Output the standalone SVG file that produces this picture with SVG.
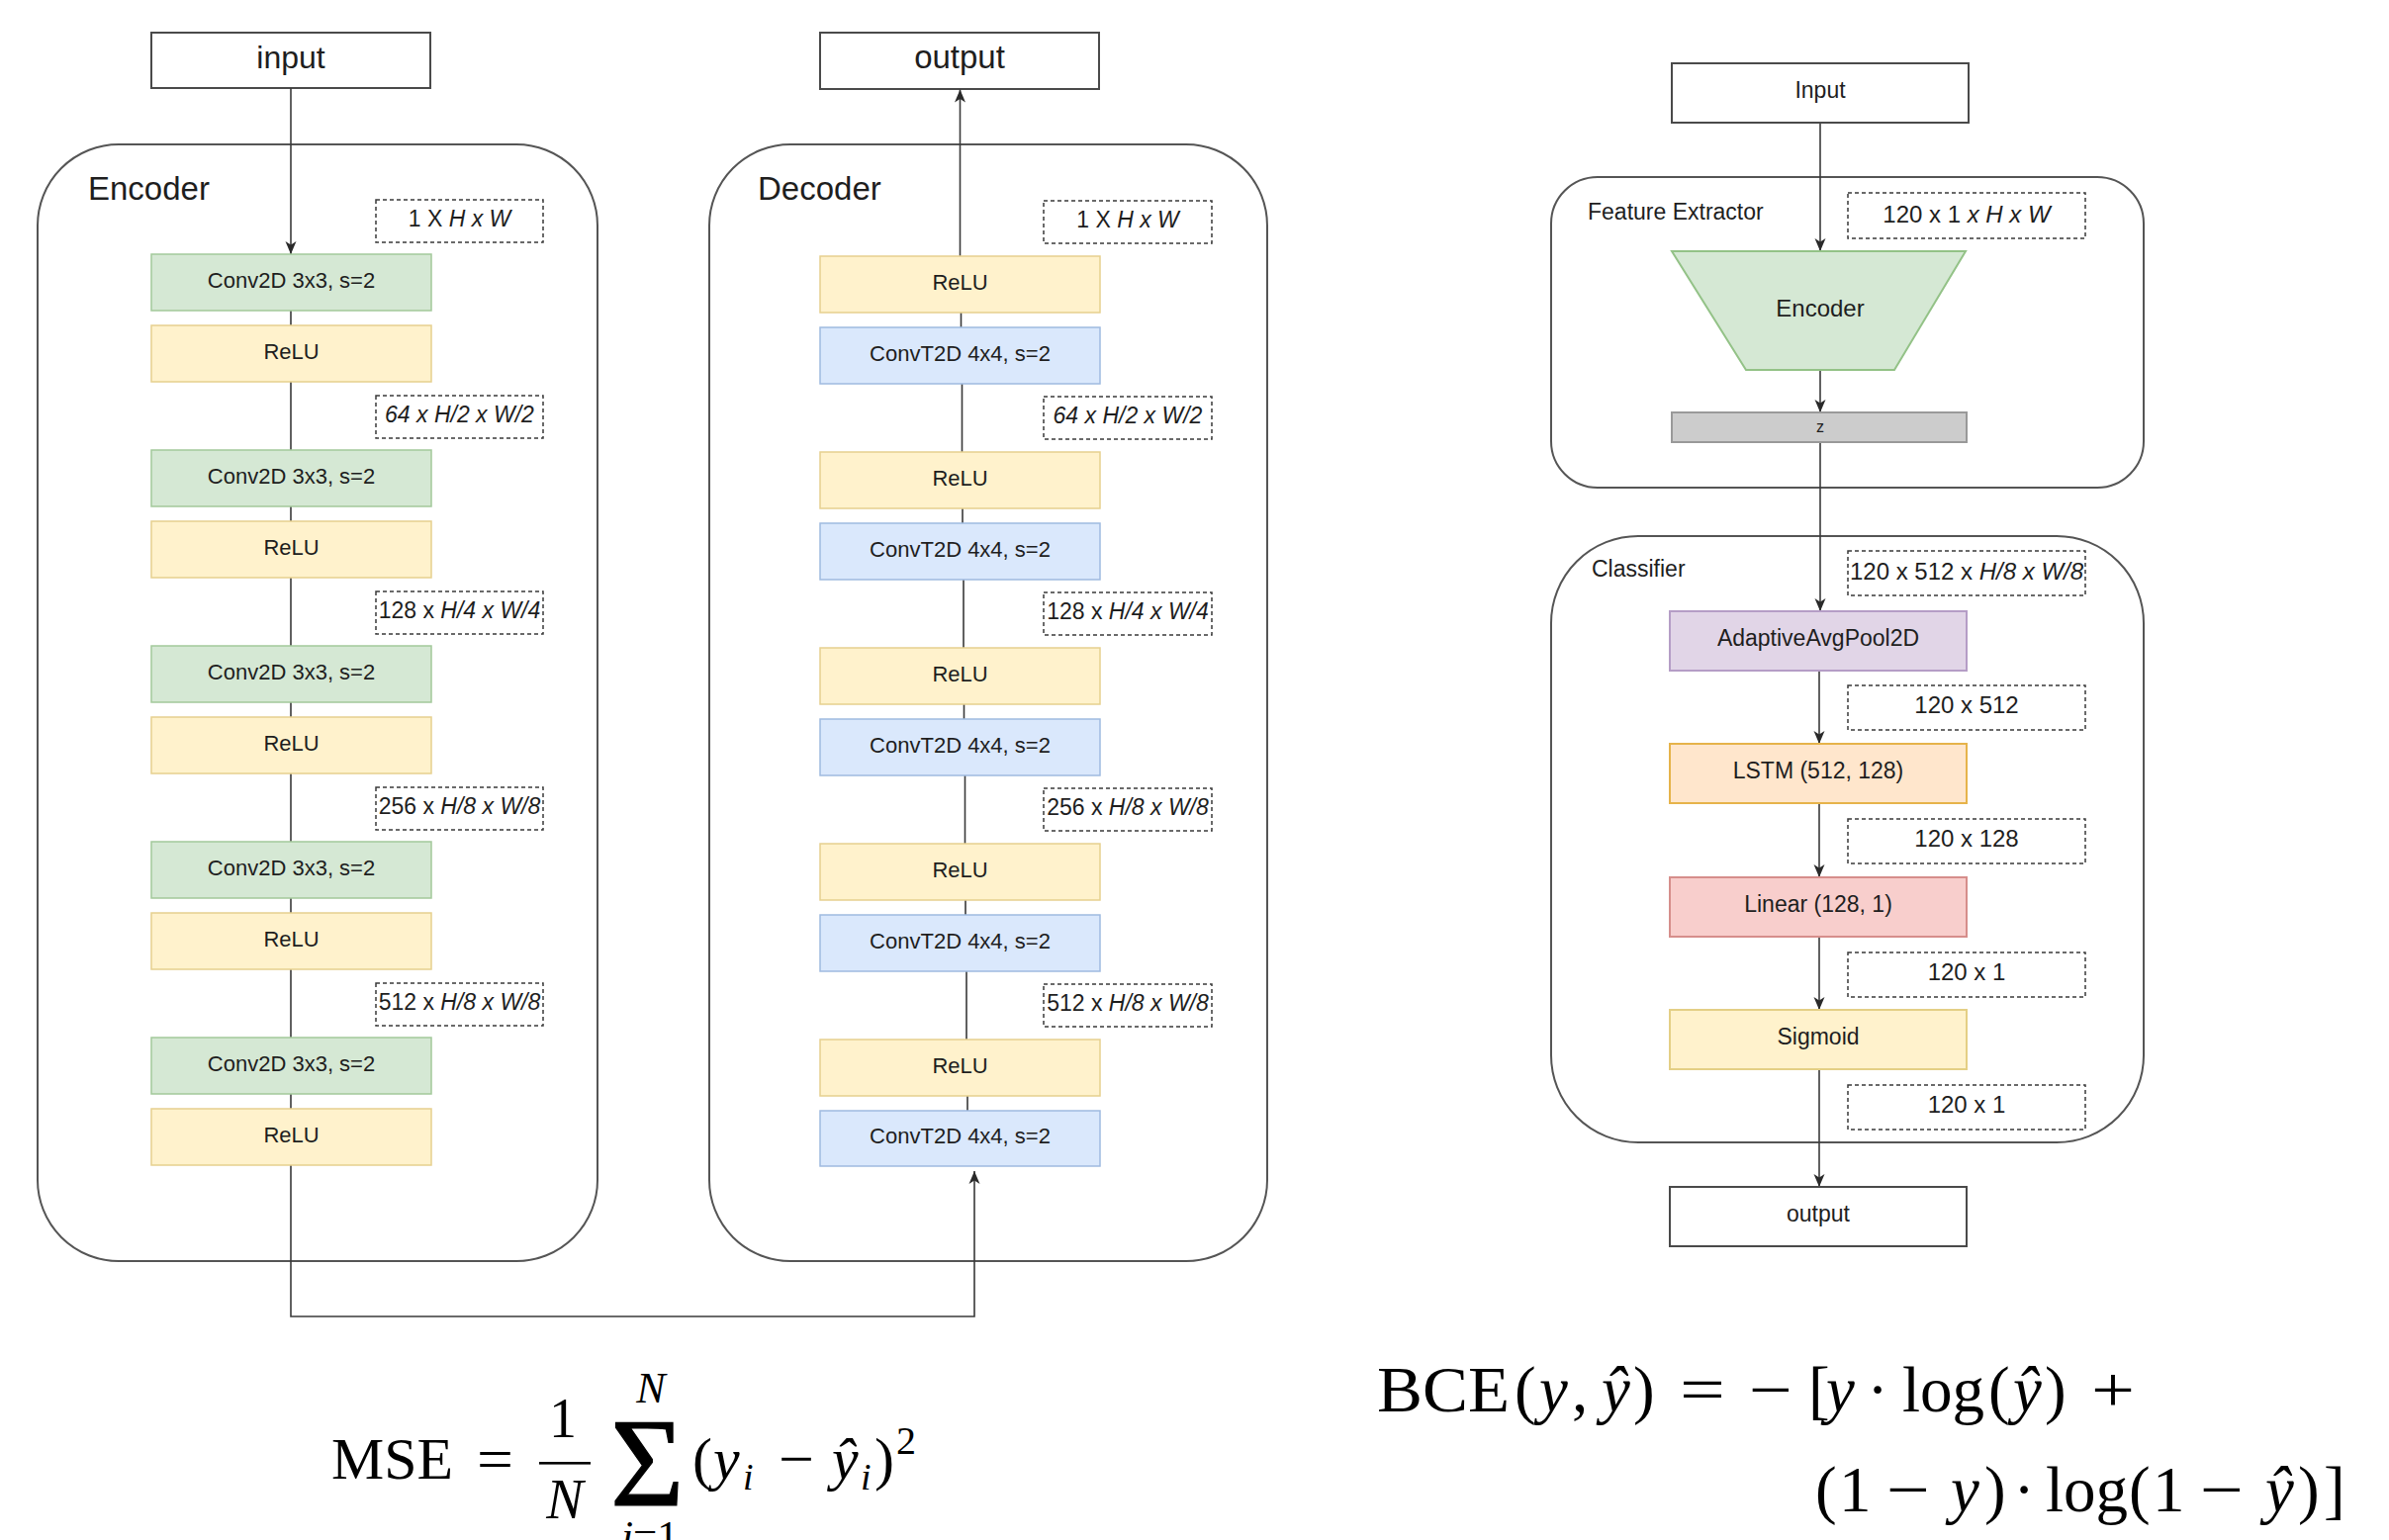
<svg xmlns="http://www.w3.org/2000/svg" width="2415" height="1557" viewBox="0 0 2415 1557">
  <style>
    .t { font-family: "Liberation Sans", Arial, Helvetica, sans-serif; fill: #1e1e1e; }
    .c { text-anchor: middle; }
    .s22 { font-size: 22px; }
    .s23 { font-size: 23px; }
    .s24 { font-size: 24px; }
    .it { font-style: italic; }
    .cont { fill: none; stroke: #555555; stroke-width: 2; }
    .io { fill: #ffffff; stroke: #4a4a4a; stroke-width: 2; }
    .dash { fill: #ffffff; stroke: #3a3a3a; stroke-width: 1.5; stroke-dasharray: 4 3; }
    .green { fill: #d5e8d4; stroke: #a3c99a; stroke-width: 1.5; }
    .yellow { fill: #fff2cc; stroke: #e6d08e; stroke-width: 1.5; }
    .blue { fill: #dae8fc; stroke: #9fbae0; stroke-width: 1.5; }
    .purple { fill: #e1d5e7; stroke: #b59dc6; stroke-width: 2; }
    .orange { fill: #ffe6cc; stroke: #e6b34a; stroke-width: 2; }
    .red { fill: #f8cecc; stroke: #d68e8b; stroke-width: 2; }
    .sig { fill: #fff2cc; stroke: #e4cf85; stroke-width: 2; }
    .gray { fill: #cccccc; stroke: #999999; stroke-width: 2; }
    .trap { fill: #d5e8d4; stroke: #93c287; stroke-width: 2; }
    .conn { fill: none; stroke: #3a3a3a; stroke-width: 1.6; }
    .m { font-family: "Liberation Serif", "Times New Roman", serif; fill: #000000; }
    .mi { font-style: italic; }
  </style>
  <defs>
    <marker id="arrow" markerUnits="userSpaceOnUse" markerWidth="14" markerHeight="14" viewBox="0 0 14 14" refX="13" refY="7" orient="auto">
      <path d="M0,1.5 L13,7 L0,12.5 L3.5,7 Z" fill="#2a2a2a"/>
    </marker>
  </defs>

  <rect width="2415" height="1557" fill="#ffffff"/>

  <!-- ===== group containers (drawn first, no fill) ===== -->
  <g id="encoder">
    <rect class="cont" x="38" y="146" width="566" height="1129" rx="82" ry="82"/>
    <text class="t" x="89" y="202" font-size="33">Encoder</text>
  </g>
  <g id="decoder">
    <rect class="cont" x="717" y="146" width="564" height="1129" rx="82" ry="82"/>
    <text class="t" x="766" y="202" font-size="33">Decoder</text>
  </g>
  <g id="feature-extractor">
    <rect class="cont" x="1568" y="179" width="599" height="314" rx="47" ry="47"/>
    <text class="t s23" x="1605" y="222">Feature Extractor</text>
  </g>
  <g id="classifier">
    <rect class="cont" x="1568" y="542" width="599" height="613" rx="88" ry="88"/>
    <text class="t s23" x="1609" y="583">Classifier</text>
  </g>

  <g id="ae-input">
    <rect class="io" x="153" y="33" width="282" height="56"/>
    <text class="t c" x="294" y="69" font-size="32">input</text>
  </g>
  <g id="ae-output">
    <rect class="io" x="829" y="33" width="282" height="57"/>
    <text class="t c" x="970" y="69" font-size="33">output</text>
  </g>

  <!-- ===== connectors ===== -->
  <g id="connectors">
    <!-- encoder chain -->
    <path class="conn" d="M294,89 V257" marker-end="url(#arrow)"/>
    <path class="conn" d="M294,314 V329 M294,386 V455 M294,512 V527 M294,584 V653 M294,710 V725 M294,782 V851 M294,908 V923 M294,980 V1049 M294,1106 V1121"/>
    <!-- latent path from encoder to decoder -->
    <path class="conn" d="M294,1178 V1331 H985 V1184" marker-end="url(#arrow)"/>
    <!-- decoder chain -->
    <path class="conn" d="M970.5,259 V90.5" marker-end="url(#arrow)"/>
    <path class="conn" d="M971.5,316 V331 M972.5,388 V457 M973,514 V529 M974,586 V655 M974.5,712 V727 M975.5,784 V853 M976,910 V925 M977,982 V1051 M978,1108 V1123"/>
    <!-- classifier chain -->
    <path class="conn" d="M1840,124 V254" marker-end="url(#arrow)"/>
    <path class="conn" d="M1840,374 V417" marker-end="url(#arrow)"/>
    <path class="conn" d="M1840,447 V618" marker-end="url(#arrow)"/>
    <path class="conn" d="M1839,678 V752" marker-end="url(#arrow)"/>
    <path class="conn" d="M1839,812 V887" marker-end="url(#arrow)"/>
    <path class="conn" d="M1839,947 V1021" marker-end="url(#arrow)"/>
    <path class="conn" d="M1839,1081 V1200" marker-end="url(#arrow)"/>
  </g>

  <!-- ===== encoder layers ===== -->
  <g id="enc-conv1"><rect class="green" x="153" y="257" width="283" height="57"/><text class="t c s22" x="294.5" y="291">Conv2D 3x3, s=2</text></g>
  <g id="enc-relu1"><rect class="yellow" x="153" y="329" width="283" height="57"/><text class="t c s22" x="294.5" y="363">ReLU</text></g>
  <g id="enc-conv2"><rect class="green" x="153" y="455" width="283" height="57"/><text class="t c s22" x="294.5" y="489">Conv2D 3x3, s=2</text></g>
  <g id="enc-relu2"><rect class="yellow" x="153" y="527" width="283" height="57"/><text class="t c s22" x="294.5" y="561">ReLU</text></g>
  <g id="enc-conv3"><rect class="green" x="153" y="653" width="283" height="57"/><text class="t c s22" x="294.5" y="687">Conv2D 3x3, s=2</text></g>
  <g id="enc-relu3"><rect class="yellow" x="153" y="725" width="283" height="57"/><text class="t c s22" x="294.5" y="759">ReLU</text></g>
  <g id="enc-conv4"><rect class="green" x="153" y="851" width="283" height="57"/><text class="t c s22" x="294.5" y="885">Conv2D 3x3, s=2</text></g>
  <g id="enc-relu4"><rect class="yellow" x="153" y="923" width="283" height="57"/><text class="t c s22" x="294.5" y="957">ReLU</text></g>
  <g id="enc-conv5"><rect class="green" x="153" y="1049" width="283" height="57"/><text class="t c s22" x="294.5" y="1083">Conv2D 3x3, s=2</text></g>
  <g id="enc-relu5"><rect class="yellow" x="153" y="1121" width="283" height="57"/><text class="t c s22" x="294.5" y="1155">ReLU</text></g>

  <!-- encoder tensor shapes -->
  <g id="enc-shape1"><rect class="dash" x="380" y="202" width="169" height="43"/><text class="t c s23" x="464.5" y="229">1 X <tspan class="it">H x W</tspan></text></g>
  <g id="enc-shape2"><rect class="dash" x="380" y="400" width="169" height="43"/><text class="t c s23 it" x="464.5" y="427">64 x H/2 x W/2</text></g>
  <g id="enc-shape3"><rect class="dash" x="380" y="598" width="169" height="43"/><text class="t c s23" x="464.5" y="625">128 x <tspan class="it">H/4 x W/4</tspan></text></g>
  <g id="enc-shape4"><rect class="dash" x="380" y="796" width="169" height="43"/><text class="t c s23" x="464.5" y="823">256 x <tspan class="it">H/8 x W/8</tspan></text></g>
  <g id="enc-shape5"><rect class="dash" x="380" y="994" width="169" height="43"/><text class="t c s23" x="464.5" y="1021">512 x <tspan class="it">H/8 x W/8</tspan></text></g>

  <!-- ===== decoder layers ===== -->
  <g id="dec-relu1"><rect class="yellow" x="829" y="259" width="283" height="57"/><text class="t c s22" x="970.5" y="293">ReLU</text></g>
  <g id="dec-convt1"><rect class="blue" x="829" y="331" width="283" height="57"/><text class="t c s22" x="970.5" y="365">ConvT2D 4x4, s=2</text></g>
  <g id="dec-relu2"><rect class="yellow" x="829" y="457" width="283" height="57"/><text class="t c s22" x="970.5" y="491">ReLU</text></g>
  <g id="dec-convt2"><rect class="blue" x="829" y="529" width="283" height="57"/><text class="t c s22" x="970.5" y="563">ConvT2D 4x4, s=2</text></g>
  <g id="dec-relu3"><rect class="yellow" x="829" y="655" width="283" height="57"/><text class="t c s22" x="970.5" y="689">ReLU</text></g>
  <g id="dec-convt3"><rect class="blue" x="829" y="727" width="283" height="57"/><text class="t c s22" x="970.5" y="761">ConvT2D 4x4, s=2</text></g>
  <g id="dec-relu4"><rect class="yellow" x="829" y="853" width="283" height="57"/><text class="t c s22" x="970.5" y="887">ReLU</text></g>
  <g id="dec-convt4"><rect class="blue" x="829" y="925" width="283" height="57"/><text class="t c s22" x="970.5" y="959">ConvT2D 4x4, s=2</text></g>
  <g id="dec-relu5"><rect class="yellow" x="829" y="1051" width="283" height="57"/><text class="t c s22" x="970.5" y="1085">ReLU</text></g>
  <g id="dec-convt5"><rect class="blue" x="829" y="1123" width="283" height="56"/><text class="t c s22" x="970.5" y="1156">ConvT2D 4x4, s=2</text></g>

  <!-- decoder tensor shapes -->
  <g id="dec-shape1"><rect class="dash" x="1055" y="203" width="170" height="43"/><text class="t c s23" x="1140" y="230">1 X <tspan class="it">H x W</tspan></text></g>
  <g id="dec-shape2"><rect class="dash" x="1055" y="401" width="170" height="43"/><text class="t c s23 it" x="1140" y="428">64 x H/2 x W/2</text></g>
  <g id="dec-shape3"><rect class="dash" x="1055" y="599" width="170" height="43"/><text class="t c s23" x="1140" y="626">128 x <tspan class="it">H/4 x W/4</tspan></text></g>
  <g id="dec-shape4"><rect class="dash" x="1055" y="797" width="170" height="43"/><text class="t c s23" x="1140" y="824">256 x <tspan class="it">H/8 x W/8</tspan></text></g>
  <g id="dec-shape5"><rect class="dash" x="1055" y="995" width="170" height="43"/><text class="t c s23" x="1140" y="1022">512 x <tspan class="it">H/8 x W/8</tspan></text></g>

  <!-- ===== classifier model nodes ===== -->
  <g id="clf-input"><rect class="io" x="1690" y="64" width="300" height="60"/><text class="t c s23" x="1840" y="99">Input</text></g>
  <g id="clf-shape-in"><rect class="dash" x="1868" y="195" width="240" height="46"/><text class="t c s24" x="1988" y="225">120 x 1 <tspan class="it">x H x W</tspan></text></g>
  <g id="clf-encoder"><polygon class="trap" points="1690,254 1987,254 1915,374 1765,374"/><text class="t c s24" x="1840" y="320">Encoder</text></g>
  <g id="clf-z"><rect class="gray" x="1690" y="417" width="298" height="30"/><text class="t c" x="1840" y="437" font-size="16">z</text></g>
  <g id="clf-shape-z"><rect class="dash" x="1868" y="557" width="240" height="45"/><text class="t c s24" x="1988" y="586">120 x 512 x <tspan class="it">H/8 x W/8</tspan></text></g>
  <g id="clf-pool"><rect class="purple" x="1688" y="618" width="300" height="60"/><text class="t c s23" x="1838" y="653">AdaptiveAvgPool2D</text></g>
  <g id="clf-shape-pool"><rect class="dash" x="1868" y="693" width="240" height="45"/><text class="t c s24" x="1988" y="721">120 x 512</text></g>
  <g id="clf-lstm"><rect class="orange" x="1688" y="752" width="300" height="60"/><text class="t c s23" x="1838" y="787">LSTM (512, 128)</text></g>
  <g id="clf-shape-lstm"><rect class="dash" x="1868" y="828" width="240" height="45"/><text class="t c s24" x="1988" y="856">120 x 128</text></g>
  <g id="clf-linear"><rect class="red" x="1688" y="887" width="300" height="60"/><text class="t c s23" x="1838" y="922">Linear (128, 1)</text></g>
  <g id="clf-shape-linear"><rect class="dash" x="1868" y="963" width="240" height="45"/><text class="t c s24" x="1988" y="991">120 x 1</text></g>
  <g id="clf-sigmoid"><rect class="sig" x="1688" y="1021" width="300" height="60"/><text class="t c s23" x="1838" y="1056">Sigmoid</text></g>
  <g id="clf-shape-sigmoid"><rect class="dash" x="1868" y="1097" width="240" height="45"/><text class="t c s24" x="1988" y="1125">120 x 1</text></g>
  <g id="clf-output"><rect class="io" x="1688" y="1200" width="300" height="60"/><text class="t c s23" x="1838" y="1235">output</text></g>

  <!-- ===== loss formulas ===== -->
  <g id="mse-formula" class="m">
    <text x="335" y="1495" font-size="60" textLength="123" lengthAdjust="spacingAndGlyphs">MSE</text>
    <text x="482" y="1495" font-size="60" textLength="37" lengthAdjust="spacingAndGlyphs">=</text>
    <text x="569" y="1453" font-size="56" text-anchor="middle">1</text>
    <rect x="545" y="1478" width="52" height="2.6" fill="#000000"/>
    <text x="571" y="1535" font-size="56" text-anchor="middle" class="mi">N</text>
    <text x="617" y="1522" font-size="128" stroke="#000000" stroke-width="1.2">Σ</text>
    <text x="658" y="1418" font-size="44" text-anchor="middle" class="mi">N</text>
    <text x="657" y="1567" font-size="43" text-anchor="middle"><tspan class="mi">i</tspan>=1</text>
    <text x="700" y="1495" font-size="60">(</text>
    <text x="721" y="1495" font-size="60" class="mi">y</text>
    <text x="751" y="1506" font-size="38" class="mi">i</text>
    <text x="787" y="1495" font-size="60" textLength="36" lengthAdjust="spacingAndGlyphs">−</text>
    <text x="841" y="1495" font-size="60" class="mi">ŷ</text>
    <text x="870" y="1506" font-size="38" class="mi">i</text>
    <text x="884" y="1495" font-size="60">)</text>
    <text x="906" y="1470" font-size="40">2</text>
  </g>

  <g id="bce-formula" class="m" font-size="65">
    <text x="1392" y="1427" textLength="134" lengthAdjust="spacingAndGlyphs">BCE</text>
    <text x="1531" y="1427">(</text>
    <text x="1556" y="1427" class="mi">y</text>
    <text x="1589" y="1427">,</text>
    <text x="1619" y="1427" class="mi">ŷ</text>
    <text x="1651" y="1427">)</text>
    <text x="1698" y="1427" textLength="46" lengthAdjust="spacingAndGlyphs">=</text>
    <text x="1768" y="1427" textLength="44" lengthAdjust="spacingAndGlyphs">−</text>
    <text x="1828" y="1427">[</text>
    <text x="1846" y="1427" class="mi">y</text>
    <text x="1898" y="1427" text-anchor="middle">·</text>
    <text x="1923" y="1427">log</text>
    <text x="2010" y="1427">(</text>
    <text x="2035" y="1427" class="mi">ŷ</text>
    <text x="2067" y="1427">)</text>
    <text x="2114" y="1427" textLength="44" lengthAdjust="spacingAndGlyphs">+</text>

    <text x="1835" y="1528">(</text>
    <text x="1859" y="1528">1</text>
    <text x="1907" y="1528" textLength="44" lengthAdjust="spacingAndGlyphs">−</text>
    <text x="1972" y="1528" class="mi">y</text>
    <text x="2006" y="1528">)</text>
    <text x="2046" y="1528" text-anchor="middle">·</text>
    <text x="2068" y="1528">log</text>
    <text x="2152" y="1528">(</text>
    <text x="2176" y="1528">1</text>
    <text x="2224" y="1528" textLength="44" lengthAdjust="spacingAndGlyphs">−</text>
    <text x="2290" y="1528" class="mi">ŷ</text>
    <text x="2323" y="1528">)</text>
    <text x="2349" y="1528">]</text>
  </g>
</svg>
